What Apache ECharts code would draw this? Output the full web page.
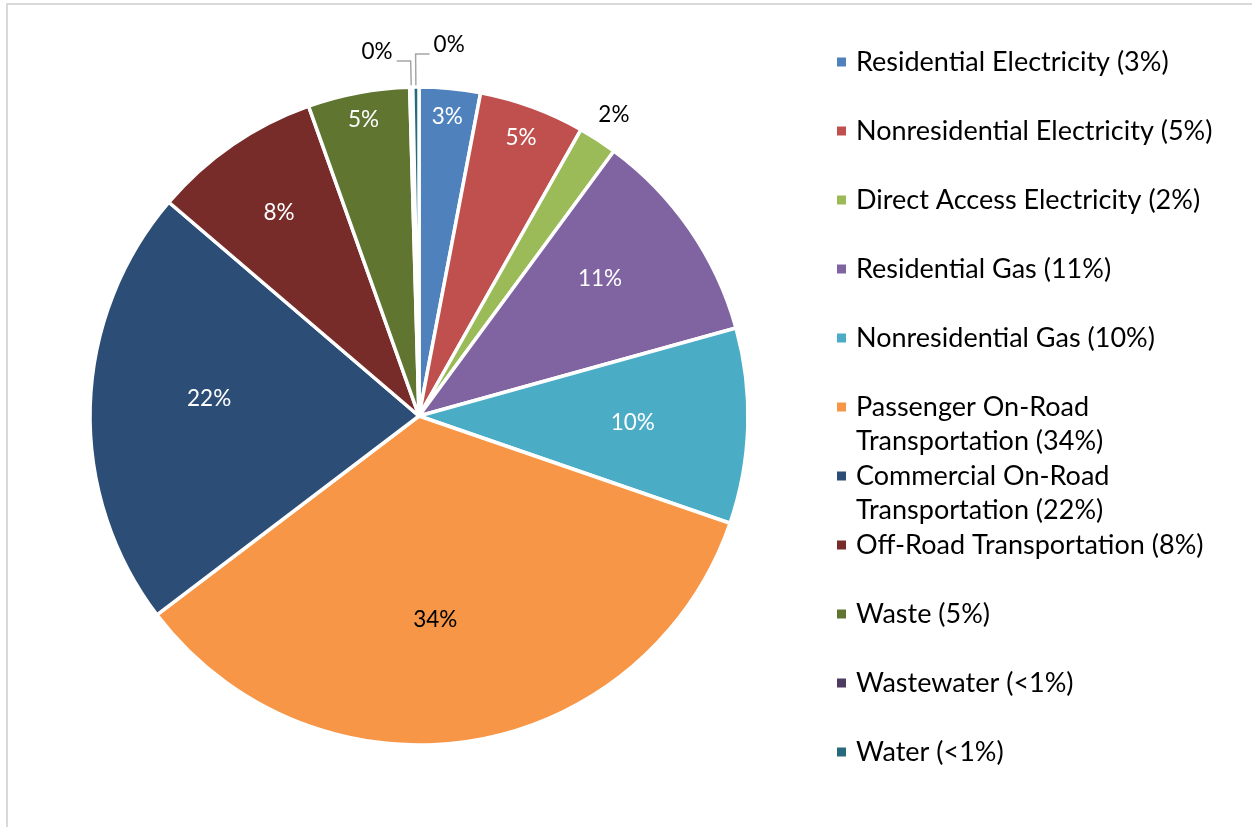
<!DOCTYPE html>
<html>
<head>
<meta charset="utf-8">
<script src="https://cdn.jsdelivr.net/npm/echarts@6/dist/echarts.min.js"></script>
<style>
  html, body { margin: 0; padding: 0; background: #fff; }
  #frame { position: absolute; left: 6px; top: 3px; width: 1246px; height: 824px;
           border-left: 2px solid #d9d9d9; border-top: 2px solid #d9d9d9; box-sizing: border-box; }
  #main { position: absolute; left: 0; top: 0; width: 1252px; height: 827px; }
</style>
</head>
<body>
<div id="frame"></div>
<div id="main"></div>
<script>
// 数据
var categories = [
  "Residential Electricity",
  "Nonresidential Electricity",
  "Direct Access Electricity",
  "Residential Gas",
  "Nonresidential Gas",
  "Passenger On-Road Transportation",
  "Commercial On-Road Transportation",
  "Off-Road Transportation",
  "Waste",
  "Wastewater",
  "Water"
];
var shares = [3.0, 5.2, 1.9, 10.6, 9.6, 34.4, 21.6, 8.3, 5.0, 0.15, 0.3];
var legendLabels = [
  "Residential Electricity (3%)",
  "Nonresidential Electricity (5%)",
  "Direct Access Electricity (2%)",
  "Residential Gas (11%)",
  "Nonresidential Gas (10%)",
  "Passenger On-Road\nTransportation (34%)",
  "Commercial On-Road\nTransportation (22%)",
  "Off-Road Transportation (8%)",
  "Waste (5%)",
  "Wastewater (<1%)",
  "Water (<1%)"
];
var colors = ["#4F81BD", "#C0504D", "#9BBB59", "#8064A2", "#4BACC6", "#F79646",
              "#2C4D75", "#772C2A", "#5F7530", "#4D3B62", "#276A7C"];

// 标签离圆心的距离（半径比例）和角度微调（度）
var labelFrac = [0.915, 0.9, 1.09, 0.69, 0.65, 0.62, 0.64, 0.75, 0.915, null, null];
var labelTurn = [0, 0, 0, -2.5, 0, 4.5, 3, 0, 0, 0, 0];
var labelColor = ["#fff", "#fff", "#000", "#fff", "#fff", "#000", "#fff", "#fff", "#fff", "#000", "#000"];

var cx = 419, cy = 416, radius = 329;
var font = "Lato";

var pieData = [];
for (var i = 0; i < categories.length; i++) {
  var item = {
    name: categories[i],
    value: shares[i],
    itemStyle: { color: colors[i] },
    label: { color: labelColor[i] }
  };
  if (i === 9 || i === 10) {
    item.label.position = "outside";
    item.labelLine = { show: true, length: i === 9 ? 26 : 33, length2: 14 };
  }
  pieData.push(item);
}

// 图例：每项一个槽位，两行的图例图标对齐第一行
var legends = categories.map(function (name, i) {
  var twoLine = legendLabels[i].indexOf("\n") >= 0;
  var c = 62 + 69 * i;
  return {
    orient: "vertical",
    left: 835,
    top: twoLine ? c - 51 : c - 17,
    padding: 0,
    itemWidth: 11,
    itemHeight: 11,
    icon: "rect",
    data: [name],
    formatter: function () {
      return twoLine ? "\n" + legendLabels[i] : legendLabels[i];
    },
    textStyle: {
      fontFamily: font,
      fontSize: 27,
      color: "#000",
      lineHeight: 34,
      padding: [0, 0, 0, 4]
    }
  };
});

var myChart = echarts.init(document.getElementById("main"));
myChart.setOption({
  animation: false,
  color: colors,
  legend: legends,
  series: [
    {
      type: "pie",
      center: [cx, cy],
      radius: radius,
      startAngle: 90,
      clockwise: true,
      avoidLabelOverlap: false,
      percentPrecision: 0,
      itemStyle: { borderColor: "#fff", borderWidth: 3.5 },
      label: {
        show: true,
        position: "inside",
        formatter: "{d}%",
        fontFamily: font,
        fontSize: 22.5
      },
      labelLine: {
        show: false,
        lineStyle: { color: "#a6a6a6", width: 1.5 },
        smooth: false
      },
      labelLayout: function (params) {
        var i = params.dataIndex;
        var k = labelFrac[i];
        if (k) {
          var lay = myChart.getModel().getSeriesByIndex(0).getData().getItemLayout(i);
          var mid = (lay.startAngle + lay.endAngle) / 2 + labelTurn[i] * Math.PI / 180;
          return {
            x: lay.cx + Math.cos(mid) * lay.r * k,
            y: lay.cy + Math.sin(mid) * lay.r * k
          };
        }
        var p = params.labelLinePoints;
        if (!p) return {};
        if (i === 10) {
          // 水的标签放到右侧
          var seg = p[2][0] - p[1][0];
          var nx = p[1][0] - seg;
          return {
            x: nx + 4,
            y: p[2][1] - 9,
            align: "left",
            labelLinePoints: [p[0], p[1], [nx, p[2][1]]]
          };
        }
        return {
          x: p[2][0] - 4,
          y: p[2][1] - 9,
          align: "right",
          labelLinePoints: p
        };
      },
      data: pieData
    }
  ]
});
</script>
</body>
</html>
